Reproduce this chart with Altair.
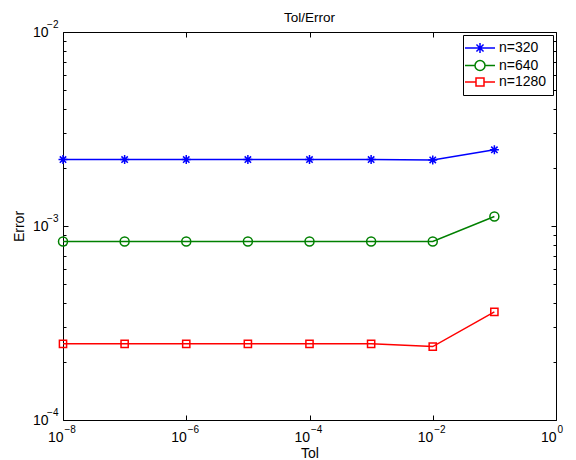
import altair as alt
import pandas as pd

# Tolerance sweep and resulting error for three grid sizes
tol = [1e-8, 1e-7, 1e-6, 1e-5, 1e-4, 1e-3, 1e-2, 1e-1]
err_n320 = [2.20e-3, 2.20e-3, 2.20e-3, 2.20e-3, 2.20e-3, 2.20e-3, 2.19e-3, 2.47e-3]
err_n640 = [8.32e-4, 8.32e-4, 8.32e-4, 8.32e-4, 8.32e-4, 8.32e-4, 8.32e-4, 1.12e-3]
err_n1280 = [2.47e-4, 2.47e-4, 2.47e-4, 2.47e-4, 2.47e-4, 2.47e-4, 2.39e-4, 3.61e-4]

series_names = ["n=320", "n=640", "n=1280"]
series_colors = ["#0000ff", "#008000", "#ff0000"]

# Axis tick positions
x_major = [1e-8, 1e-6, 1e-4, 1e-2, 1.0]
y_major = [1e-4, 1e-3, 1e-2]
y_minor = [2e-4, 3e-4, 4e-4, 5e-4, 6e-4, 7e-4, 8e-4, 9e-4,
           2e-3, 3e-3, 4e-3, 5e-3, 6e-3, 7e-3, 8e-3, 9e-3]

rows = []
for name, errs in zip(series_names, [err_n320, err_n640, err_n1280]):
    for t, e in zip(tol, errs):
        rows.append({"tol": t, "err": e, "series": name})
df = pd.DataFrame(rows)

FONT = "Liberation Sans"

# Marker glyphs (unit square paths) and legend glyphs with a line through them
star = "M-1,0L1,0M0,-1L0,1M-0.71,-0.71L0.71,0.71M-0.71,0.71L0.71,-0.71"
circ = "M1,0A1,1,0,1,1,-1,0A1,1,0,1,1,1,0Z"
sqr = "M-0.8,-0.8L0.8,-0.8L0.8,0.8L-0.8,0.8Z"
marker_paths = [star, circ, sqr]
legend_paths = [
    "M-3,0L3,0" + star,
    "M-3,0L-1,0M1,0L3,0" + circ,
    "M-3,0L-0.8,0M0.8,0L3,0" + sqr,
]

xs = alt.Scale(type="log", domain=[1e-8, 1], nice=False)
ys = alt.Scale(type="log", domain=[1e-4, 1e-2], nice=False)
cs = alt.Scale(domain=series_names, range=series_colors)

tick_common = dict(domain=False, grid=False, labelFlush=False, labelOverlap=False,
                   tickColor="black", tickWidth=1, labelColor="black", labelFont=FONT)


def axis(**kw):
    opts = dict(tick_common)
    opts.update(kw)
    return alt.Axis(**opts)


base = alt.Chart(df)

# lines + bottom/left major axes with "10" labels
lines = base.mark_line(strokeWidth=1.5).encode(
    x=alt.X("tol:Q", scale=xs, axis=axis(
        orient="bottom", values=x_major, offset=-5, tickSize=5,
        labelExpr="'10'", labelAlign="right", labelBaseline="alphabetic",
        labelFontSize=14, labelPadding=21, labelOffset=0,
        title="Tol", titleFont=FONT, titleFontSize=14, titleFontWeight="normal",
        titleColor="black", titlePadding=2)),
    y=alt.Y("err:Q", scale=ys, axis=axis(
        orient="left", values=y_major, offset=-5, tickSize=5,
        labelExpr="'10'", labelAlign="right", labelBaseline="middle",
        labelFontSize=14, labelPadding=15,
        title="Error", titleFont=FONT, titleFontSize=14, titleFontWeight="normal",
        titleColor="black", titlePadding=6)),
    color=alt.Color("series:N", scale=cs, legend=None),
)

# markers + top/right major ticks
points = base.mark_point(filled=False, size=81, strokeWidth=1.5, opacity=1).encode(
    x=alt.X("tol:Q", scale=xs, axis=axis(
        orient="top", values=x_major, offset=-5, tickSize=5, labels=False, title=None)),
    y=alt.Y("err:Q", scale=ys, axis=axis(
        orient="right", values=y_major, offset=-5, tickSize=5, labels=False, title=None)),
    color=alt.Color("series:N", scale=cs, legend=None),
    shape=alt.Shape("series:N", scale=alt.Scale(domain=series_names, range=marker_paths),
                    legend=None),
)

# exponent labels (superscripts)
exps = base.mark_line(opacity=0).encode(
    x=alt.X("tol:Q", scale=xs, axis=axis(
        orient="bottom", values=x_major, offset=-5, tickSize=5, tickOpacity=0,
        labelExpr="format(round(log(datum.value)/LN10), 'd')",
        labelAlign="left", labelBaseline="alphabetic", labelFontSize=10,
        labelPadding=12, labelOffset=1, title=None)),
    y=alt.Y("err:Q", scale=ys, axis=axis(
        orient="left", values=y_major, offset=-5, tickSize=5, tickOpacity=0,
        labelExpr="format(round(log(datum.value)/LN10), 'd')",
        labelAlign="right", labelBaseline="middle", labelFontSize=10,
        labelPadding=5, labelOffset=-8, title=None)),
)

# minor ticks on the log y axis, both sides
minor_left = base.mark_line(opacity=0).encode(
    x=alt.X("tol:Q", scale=xs, axis=None),
    y=alt.Y("err:Q", scale=ys, axis=axis(
        orient="left", values=y_minor, offset=-3, tickSize=3, labels=False, title=None)),
)
minor_right = base.mark_line(opacity=0).encode(
    x=alt.X("tol:Q", scale=xs, axis=None),
    y=alt.Y("err:Q", scale=ys, axis=axis(
        orient="right", values=y_minor, offset=-3, tickSize=3, labels=False, title=None)),
)

# legend carrier
legend_opts = dict(title=None, orient="top-right", offset=3)
legend_layer = base.transform_filter("false").mark_point(
    filled=False, size=81, strokeWidth=1.5, opacity=1).encode(
    x=alt.X("tol:Q", scale=xs, axis=None),
    y=alt.Y("err:Q", scale=ys, axis=None),
    color=alt.Color("series:N", scale=cs, legend=alt.Legend(**legend_opts)),
    shape=alt.Shape("series:N", scale=alt.Scale(domain=series_names, range=legend_paths),
                    legend=alt.Legend(**legend_opts)),
)

chart = alt.layer(
    lines, points, exps, minor_left, minor_right, legend_layer
).resolve_axis(
    x="independent", y="independent"
).resolve_scale(
    color="independent", shape="independent"
).properties(
    width=493,
    height=388,
    title=alt.TitleParams("Tol/Error", font=FONT, fontSize=13.5, fontWeight="normal",
                          color="black", anchor="middle", offset=-5),
    autosize=alt.AutoSizeParams(type="none"),
    padding={"left": 63, "top": 32, "right": 20, "bottom": 40},
    background="white",
).configure_view(
    stroke="black", strokeWidth=1, fill="white"
).configure_legend(
    strokeColor="black", fillColor="white", padding=6, cornerRadius=0,
    labelFont=FONT, labelFontSize=14, labelColor="black",
    symbolStrokeWidth=1.5, rowPadding=1.5, symbolOffset=4, labelOffset=12,
)

chart.save("out.html", embed_options={"renderer": "svg", "actions": False})
